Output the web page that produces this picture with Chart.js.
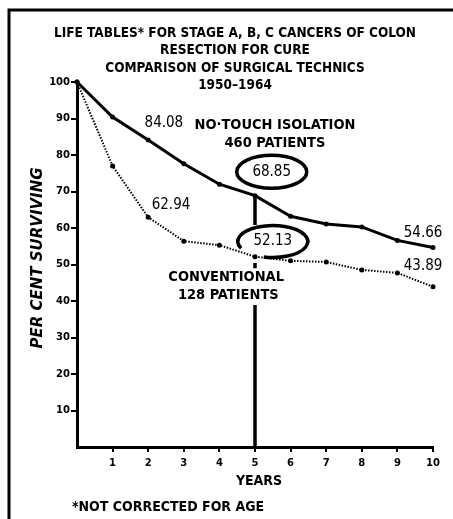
<!DOCTYPE html>
<html>
<head>
<meta charset="utf-8">
<script src="https://cdn.jsdelivr.net/npm/chart.js@4/dist/chart.umd.min.js"></script>
<style>
  body { margin: 0; background: #fff; }
  canvas { display: block; }
</style>
</head>
<body>
<canvas id="graphe" width="453" height="519"></canvas>
<script>
// data
var years = [0, 1, 2, 3, 4, 5, 6, 7, 8, 9, 10];
var noTouch = [100, 90.4, 84.08, 77.6, 72.0, 68.85, 63.2, 61.1, 60.3, 56.6, 54.66];
var conventional = [100, 77.0, 62.94, 56.4, 55.3, 52.13, 51.0, 50.7, 48.5, 47.7, 43.89];
var yTicks = [10, 20, 30, 40, 50, 60, 70, 80, 90, 100];
var xTicks = [1, 2, 3, 4, 5, 6, 7, 8, 9, 10];
var titleLines = [
  "LIFE TABLES* FOR STAGE A, B, C CANCERS OF COLON",
  "RESECTION FOR CURE",
  "COMPARISON OF SURGICAL TECHNICS",
  "1950\u20131964"
];
// five year marker (line broken round the labels)
var markerYear = 5;
var markerValues = [68.85, 60.8, null, 50.4, 49.0, null, 38.9, 0];

function toPoints(xs, ys) {
  return xs.map(function (x, i) { return { x: x, y: ys[i] }; });
}

// extra text / ovals placed in data units
var textNotes = [
  { text: "84.08", x: 2.44, y: 88.8, font: "15px 'DejaVu Sans Condensed'" },
  { text: "NO\u00b7TOUCH ISOLATION", x: 5.56, y: 88.2, font: "bold 14.5px 'DejaVu Sans Condensed'" },
  { text: "460 PATIENTS", x: 5.56, y: 83.3, font: "bold 14.5px 'DejaVu Sans Condensed'" },
  { text: "68.85", x: 5.47, y: 75.4, font: "15px 'DejaVu Sans Condensed'" },
  { text: "62.94", x: 2.64, y: 66.3, font: "15px 'DejaVu Sans Condensed'" },
  { text: "52.13", x: 5.5, y: 56.4, font: "15px 'DejaVu Sans Condensed'" },
  { text: "CONVENTIONAL", x: 4.19, y: 46.6, font: "bold 14.5px 'DejaVu Sans Condensed'" },
  { text: "128 PATIENTS", x: 4.25, y: 41.7, font: "bold 14.5px 'DejaVu Sans Condensed'" },
  { text: "54.66", x: 9.72, y: 58.6, font: "15px 'DejaVu Sans Condensed'" },
  { text: "43.89", x: 9.72, y: 49.6, font: "15px 'DejaVu Sans Condensed'" }
];
var ovals = [
  { x: 5.47, y: 75.4, rx: 35, ry: 16.5, gap: null },
  { x: 5.5, y: 56.3, rx: 35, ry: 16, gap: [105, 155] }
];

function hideZero(c) {
  return c.tick && c.tick.value === 0 ? 'rgba(0,0,0,0)' : '#000';
}

var notesPlugin = {
  id: 'notes',
  afterDraw: function (chart) {
    var ctx = chart.ctx;
    var xs = chart.scales.x, ys = chart.scales.y;
    ctx.save();
    ctx.fillStyle = '#000';
    ctx.strokeStyle = '#000';
    ctx.textAlign = 'center';
    ctx.textBaseline = 'middle';
    // title
    ctx.font = "bold 13.5px 'DejaVu Sans Condensed'";
    var ty = [33, 50, 68, 85];
    titleLines.forEach(function (t, i) { ctx.fillText(t, 235, ty[i]); });
    // notes
    textNotes.forEach(function (n) {
      ctx.font = n.font;
      ctx.fillText(n.text, xs.getPixelForValue(n.x), ys.getPixelForValue(n.y));
    });
    // ovals
    ctx.lineWidth = 3.5;
    ovals.forEach(function (o) {
      var cx = xs.getPixelForValue(o.x), cy = ys.getPixelForValue(o.y);
      ctx.beginPath();
      if (o.gap) {
        ctx.ellipse(cx, cy, o.rx, o.ry, 0, o.gap[1] * Math.PI / 180, (o.gap[0] + 360) * Math.PI / 180);
      } else {
        ctx.ellipse(cx, cy, o.rx, o.ry, 0, 0, Math.PI * 2);
      }
      ctx.stroke();
    });
    // axis titles and footnote
    ctx.font = "bold 14px 'DejaVu Sans Condensed'";
    ctx.fillText("YEARS", 259, 481);
    ctx.textAlign = 'left';
    ctx.fillText("*NOT CORRECTED FOR AGE", 72, 507);
    ctx.save();
    ctx.translate(38, 258);
    ctx.rotate(-Math.PI / 2);
    ctx.textAlign = 'center';
    ctx.font = "italic bold 15px 'DejaVu Sans'";
    ctx.fillText("PER CENT SURVIVING", 0, 0);
    ctx.restore();
    // frame
    ctx.lineWidth = 3;
    ctx.beginPath();
    ctx.moveTo(9, 519);
    ctx.lineTo(9, 10);
    ctx.lineTo(453, 10);
    ctx.stroke();
    ctx.restore();
  }
};

var myChart = new Chart(document.getElementById('graphe').getContext('2d'), {
  type: 'line',
  data: {
    datasets: [{
      label: "No-touch isolation",
      data: toPoints(years, noTouch),
      borderColor: '#000',
      backgroundColor: '#000',
      borderWidth: 3,
      pointRadius: 2.5,
      pointBorderWidth: 0,
      tension: 0,
      clip: false
    }, {
      label: "Conventional",
      data: toPoints(years, conventional),
      borderColor: '#000',
      backgroundColor: '#000',
      borderWidth: 2,
      borderDash: [1.5, 1.5],
      pointRadius: 2.5,
      pointBorderWidth: 0,
      tension: 0,
      clip: false
    }, {
      label: "Five years",
      data: markerValues.map(function (v) { return { x: markerYear, y: v }; }),
      borderColor: '#000',
      borderWidth: 3.5,
      pointRadius: 0,
      spanGaps: false,
      clip: false
    }]
  },
  options: {
    responsive: false,
    animation: false,
    layout: { padding: { left: 0, top: 82, right: 20, bottom: 0 } },
    plugins: { legend: { display: false }, tooltip: { enabled: false } },
    scales: {
      x: {
        type: 'linear',
        min: 0,
        max: 10,
        afterFit: function (s) { s.height = 72; },
        afterBuildTicks: function (s) { s.ticks = [0].concat(xTicks).map(function (v) { return { value: v }; }); },
        ticks: {
          color: '#000',
          padding: 5,
          font: { family: 'DejaVu Sans', weight: 'bold', size: 10 },
          callback: function (v) { return v === 0 ? '' : String(v); }
        },
        grid: { drawOnChartArea: false, color: hideZero, lineWidth: 2, tickLength: 5 },
        border: { color: '#000', width: 3 }
      },
      y: {
        min: 0,
        max: 100,
        afterFit: function (s) { s.width = 77; },
        afterBuildTicks: function (s) { s.ticks = [0].concat(yTicks).map(function (v) { return { value: v }; }); },
        ticks: {
          color: '#000',
          padding: 1,
          font: { family: 'DejaVu Sans', weight: 'bold', size: 10 },
          callback: function (v) { return v === 0 ? '' : String(v); }
        },
        grid: { drawOnChartArea: false, color: hideZero, lineWidth: 2, tickLength: 6 },
        border: { color: '#000', width: 3 }
      }
    }
  },
  plugins: [notesPlugin]
});
</script>
</body>
</html>
